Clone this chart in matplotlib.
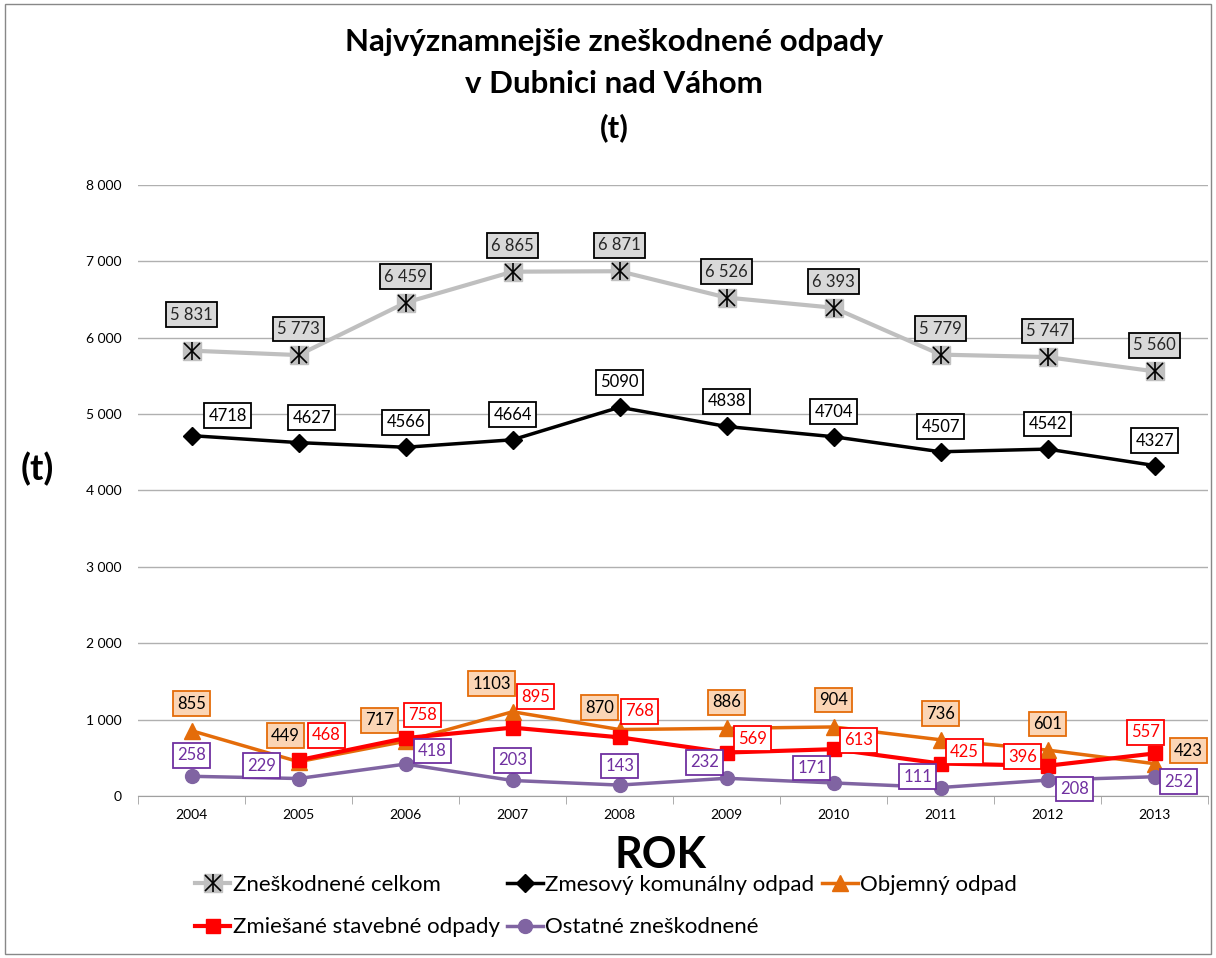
import numpy as np
import matplotlib
matplotlib.use("Agg")
import matplotlib.pyplot as plt
from matplotlib.ticker import FuncFormatter, FixedLocator
from matplotlib.legend_handler import HandlerTuple
from matplotlib.patches import Rectangle

plt.rcParams['font.family'] = ['Lato', 'DejaVu Sans']

# data
years = ["2004", "2005", "2006", "2007", "2008", "2009", "2010", "2011", "2012", "2013"]
celkom = [5831, 5773, 6459, 6865, 6871, 6526, 6393, 5779, 5747, 5560]
komunalny = [4718, 4627, 4566, 4664, 5090, 4838, 4704, 4507, 4542, 4327]
objemny = [855, 449, 717, 1103, 870, 886, 904, 736, 601, 423]
stavebne = [None, 468, 758, 895, 768, 569, 613, 425, 396, 557]
ostatne = [258, 229, 418, 203, 143, 232, 171, 111, 208, 252]

# label offsets in pixels (dx right, dy down) - layout only
off_celkom = [(0, -36)] + [(0, -26)] * 9
off_komunalny = [(36, -20), (13, -25)] + [(0, -25)] * 8
off_objemny = [(0, -27), (-13, -26), (-26, -21), (-21, -28), (-20, -22),
               (0, -26), (0, -27), (0, -26), (0, -26), (34, -13)]
off_stavebne = [None, (28, -25), (17, -23), (23, -31), (20, -26),
                (26, -14), (25, -9), (24, -12), (-25, -9), (-9, -21)]
off_ostatne = [(0, -21), (-37, -13), (27, -13), (0, -20), (0, -19),
               (-22, -16), (-22, -15), (-23, -11), (27, 9), (24, 5)]

x = np.arange(len(years))

fig = plt.figure(figsize=(12.16, 9.58), dpi=100)
ax = fig.add_axes([0.1135, 0.1691, 0.880, 0.6378])

def thousands(v, pos=None):
    return f"{int(v):,}".replace(",", " ")

# series styling
c_gray = "#bfbfbf"
c_orange = "#e46c0a"
c_red = "#ff0000"
c_purple = "#8064a2"

l_tot = ax.plot(x, celkom, color=c_gray, lw=3, marker="s", ms=13,
                mfc="#c0c0c0", mec="#c0c0c0", zorder=3)[0]
l_tx = ax.plot(x, celkom, ls="none", marker="x", ms=11, mec="black", mew=1.2, zorder=4)[0]
l_tv = ax.plot(x, celkom, ls="none", marker="|", ms=13, mec="black", mew=1.2, zorder=4)[0]

l_kom = ax.plot(x, komunalny, color="black", lw=2.5, marker="D", ms=9, zorder=3)[0]
l_obj = ax.plot(x, objemny, color=c_orange, lw=2.5, marker="^", ms=11, zorder=3)[0]
xs = [i for i, v in enumerate(stavebne) if v is not None]
vs = [v for v in stavebne if v is not None]
l_sta = ax.plot(xs, vs, color=c_red, lw=3, marker="s", ms=10, zorder=3)[0]
l_ost = ax.plot(x, ostatne, color=c_purple, lw=2.5, marker="o", ms=10, zorder=3)[0]

def labels(vals, offs, text_c, fc, ec, fmt=str):
    for i, v in enumerate(vals):
        if v is None:
            continue
        dx, dy = offs[i]
        ax.annotate(fmt(v), xy=(i, v), xytext=(dx, -dy), textcoords="offset pixels",
                    ha="center", va="center", fontsize=12, color=text_c,
                    bbox=dict(boxstyle="square,pad=0.26", fc=fc, ec=ec, lw=1.3),
                    zorder=6)

labels(celkom, off_celkom, "#262626", "#d9d9d9", "black", thousands)
labels(komunalny, off_komunalny, "black", "white", "black")
labels(objemny, off_objemny, "black", "#fbd5b5", c_orange)
labels(stavebne, off_stavebne, c_red, "white", c_red)
labels(ostatne, off_ostatne, "#7030a0", "white", "#7030a0")

# axes
ax.set_xlim(-0.5, len(years) - 0.5)
ax.set_ylim(0, 8000)
ax.set_yticks(np.arange(0, 8001, 1000))
ax.yaxis.set_major_formatter(FuncFormatter(thousands))
ax.set_xticks(x)
ax.set_xticklabels(years)
ax.xaxis.set_minor_locator(FixedLocator(np.arange(-0.5, len(years), 1.0)))
ax.tick_params(axis="x", which="major", length=0, labelsize=10, pad=9)
ax.tick_params(axis="x", which="minor", length=6, color="#a0a0a0", direction="out")
ax.tick_params(axis="y", length=0, labelsize=10, pad=12)
ax.grid(axis="y", color="#b0b0b0", lw=1)
ax.set_axisbelow(True)
for s in ["top", "right", "left"]:
    ax.spines[s].set_visible(False)
ax.spines["bottom"].set_color("#a0a0a0")

fig.text(0.505, 0.971, "Najvýznamnejšie zneškodnené odpady\nv Dubnici nad Váhom\n(t)",
         ha="center", va="top", fontsize=22.5, fontweight="bold", linespacing=1.62)
fig.text(0.031, 0.51, "(t)", ha="center", va="center", fontsize=26, fontweight="bold")
fig.text(0.543, 0.107, "ROK", ha="center", va="center", fontsize=31, fontweight="bold")

handles = [(l_tot, l_tx, l_tv), l_sta, l_kom, l_ost, l_obj]
names = ["Zneškodnené celkom", "Zmiešané stavebné odpady", "Zmesový komunálny odpad",
         "Ostatné zneškodnené", "Objemný odpad"]
fig.legend(handles, names, loc="upper left", bbox_to_anchor=(0.151, 0.098), ncol=3,
           frameon=False, fontsize=16, handlelength=1.6, handletextpad=0.1,
           columnspacing=0.35, labelspacing=1.0, borderpad=0,
           handler_map={tuple: HandlerTuple(ndivide=1, pad=0)})

fig.patches.append(Rectangle((0.004, 0.004), 0.992, 0.992, transform=fig.transFigure,
                             fill=False, ec="#888888", lw=1))

fig.savefig("out.png", dpi=100)
